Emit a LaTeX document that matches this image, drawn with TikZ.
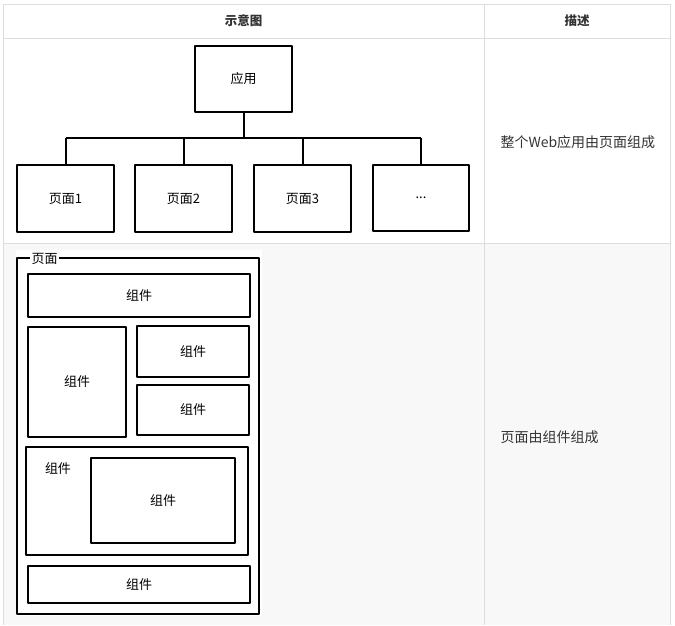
\documentclass[tikz,border=0pt]{standalone}
\usepackage{fontspec}
\setmainfont{Noto Sans CJK SC}
\definecolor{gridgray}{HTML}{DDDDDD}
\definecolor{rowgray}{HTML}{F8F8F8}
\definecolor{textdark}{HTML}{333333}
\begin{document}
\begin{tikzpicture}[x=1pt,y=-1pt,
  sketch/.style={draw=black, line width=2.6pt, line join=round, fill=white,
    inner sep=0pt, font=\fontsize{13}{15}\selectfont},
  wire/.style={draw=black, line width=2pt},
  gridline/.style={draw=gridgray, line width=1pt},
  head/.style={font=\fontsize{12.5}{14}\selectfont\bfseries, text=textdark},
  desc/.style={font=\fontsize{14}{16}\selectfont, text=textdark, anchor=west},
  tag/.style={fill=white, inner sep=1.5pt, font=\fontsize{13}{15}\selectfont}]
\useasboundingbox (0,0) rectangle (675,625);

% table background and rules
\fill[white] (0,0) rectangle (675,625);
\fill[rowgray] (3,243) rectangle (670,625);
\fill[white] (16,250) rectangle (262,616);
\draw[gridline] (3,4) -- (670,4);
\draw[gridline] (3,38) -- (670,38);
\draw[gridline] (3,243) -- (670,243);
\draw[gridline] (3,4) -- (3,625);
\draw[gridline] (484,4) -- (484,625);
\draw[gridline] (670,4) -- (670,625);

% header
\node[head] (hdiag) at (243.5,21) {示意图};
\node[head] (hdesc) at (577,21) {描述};

% row 1: application made of pages
\node[sketch, minimum width=97pt, minimum height=66pt] (app) at (243.5,79) {应用};
\node[sketch, minimum width=97pt, minimum height=67pt] (p1) at (65.5,198.5) {页面1};
\node[sketch, minimum width=97pt, minimum height=67pt] (p2) at (183.5,198.5) {页面2};
\node[sketch, minimum width=97pt, minimum height=67pt] (p3) at (302.5,198.5) {页面3};
\node[sketch, minimum width=96pt, minimum height=66pt] (p4) at (421,198) {...};
\coordinate (bus) at (243.5,138);
\draw[wire] (app.south) -- (bus);
\draw[wire] (p1.north |- bus) -- (p4.north |- bus);
\foreach \p in {p1,p2,p3,p4} \draw[wire] (\p.north |- bus) -- (\p.north);

\node[desc] (d1) at (497,142) {整个Web应用由页面组成};

% row 2: page made of components
\node[sketch, minimum width=242pt, minimum height=356pt] (page) at (138,436) {};
\node[tag] (pagetag) at (44.5,259) {页面};
\node[sketch, minimum width=222pt, minimum height=43pt] (c1) at (139,295.5) {组件};
\node[sketch, minimum width=98pt, minimum height=110pt] (c2) at (77,382) {组件};
\node[sketch, minimum width=112pt, minimum height=51pt] (c3) at (193,351.5) {组件};
\node[sketch, minimum width=112pt, minimum height=50pt] (c4) at (193,410) {组件};
\node[sketch, minimum width=222pt, minimum height=108pt] (c5) at (137,501) {};
\node[font=\fontsize{13}{15}\selectfont] (c5tag) at (58,469) {组件};
\node[sketch, minimum width=144pt, minimum height=85pt] (c6) at (163,500.5) {组件};
\node[sketch, minimum width=222pt, minimum height=37pt] (c7) at (139,584.5) {组件};

\node[desc] (d2) at (497,437) {页面由组件组成};
\end{tikzpicture}
\end{document}
